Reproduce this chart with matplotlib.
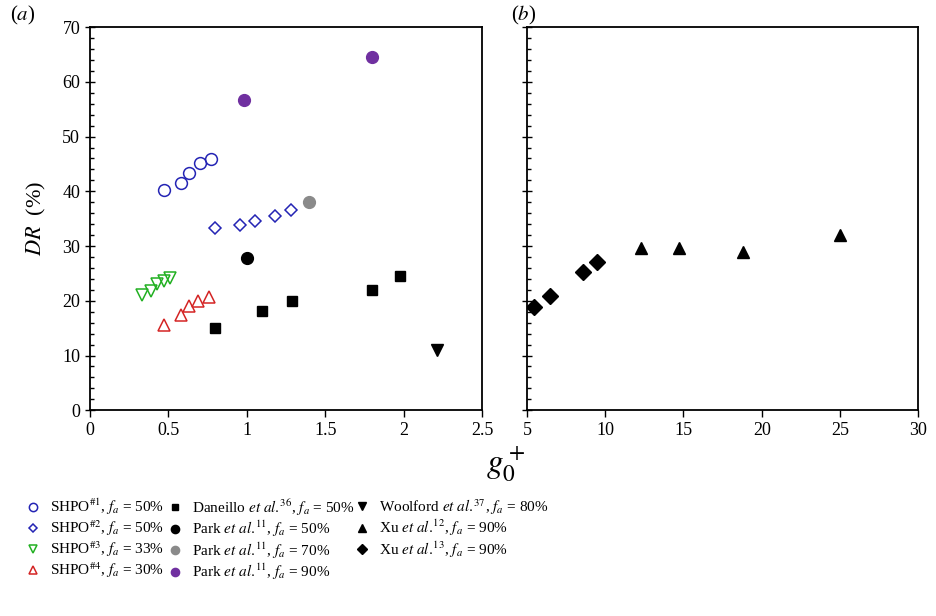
import matplotlib
matplotlib.use('Agg')
import matplotlib.pyplot as plt
from matplotlib.ticker import MultipleLocator

plt.rcParams['font.family'] = ['Liberation Serif', 'DejaVu Serif']
plt.rcParams['mathtext.fontset'] = 'stix'

# panel (a)
shpo1_x = [0.47, 0.58, 0.63, 0.70, 0.77]
shpo1_y = [40.3, 41.5, 43.4, 45.1, 45.9]
shpo2_x = [0.795, 0.955, 1.05, 1.18, 1.28]
shpo2_y = [33.3, 33.9, 34.5, 35.5, 36.5]
shpo3_x = [0.33, 0.39, 0.43, 0.47, 0.51]
shpo3_y = [21.0, 21.8, 23.0, 23.6, 24.2]
shpo4_x = [0.47, 0.58, 0.63, 0.69, 0.76]
shpo4_y = [15.6, 17.4, 19.1, 20.0, 20.6]
daneillo_x = [0.80, 1.10, 1.29, 1.80, 1.98]
daneillo_y = [15.0, 18.1, 19.9, 22.0, 24.6]
park50_x, park50_y = [1.0], [27.9]
park70_x, park70_y = [1.40], [38.0]
park90_x = [0.98, 1.80]
park90_y = [56.6, 64.6]
woolford_x, woolford_y = [2.21], [11.0]

# panel (b)
xu13_x = [5.47, 6.47, 8.56, 9.47]
xu13_y = [18.8, 20.9, 25.3, 27.0]
xu12_x = [12.3, 14.7, 18.8, 25.0]
xu12_y = [29.6, 29.6, 29.0, 32.0]

BLUE = '#2424b4'
GREEN = '#22b022'
RED = '#d42424'
PURPLE = '#7030a0'
GRAY = '#8a8a8a'

fig = plt.figure(figsize=(9.36, 6.16), dpi=100)
ax1 = fig.add_axes([0.096, 0.334, 0.419, 0.622])
ax2 = fig.add_axes([0.563, 0.334, 0.418, 0.622])

h = []
h += ax1.plot(shpo1_x, shpo1_y, 'o', mfc='none', mec=BLUE, mew=1.1, ms=8.5, ls='none',
              label=r'SHPO$^{\#1}$, $f_a$ = 50%')
h += ax1.plot(shpo2_x, shpo2_y, 'D', mfc='none', mec=BLUE, mew=1.1, ms=6.5, ls='none',
              label=r'SHPO$^{\#2}$, $f_a$ = 50%')
h += ax1.plot(shpo3_x, shpo3_y, 'v', mfc='none', mec=GREEN, mew=1.1, ms=8, ls='none',
              label=r'SHPO$^{\#3}$, $f_a$ = 33%')
h += ax1.plot(shpo4_x, shpo4_y, '^', mfc='none', mec=RED, mew=1.1, ms=8, ls='none',
              label=r'SHPO$^{\#4}$, $f_a$ = 30%')
h += ax1.plot(daneillo_x, daneillo_y, 's', color='black', ms=6.5, ls='none',
              label=r'Daneillo $\mathit{et\ al.}^{\!36}$, $f_a$ = 50%')
h += ax1.plot(park50_x, park50_y, 'o', color='black', ms=8.5, ls='none',
              label=r'Park $\mathit{et\ al.}^{\!11}$, $f_a$ = 50%')
h += ax1.plot(park70_x, park70_y, 'o', color=GRAY, ms=8.5, ls='none',
              label=r'Park $\mathit{et\ al.}^{\!11}$, $f_a$ = 70%')
h += ax1.plot(park90_x, park90_y, 'o', color=PURPLE, ms=8.5, ls='none',
              label=r'Park $\mathit{et\ al.}^{\!11}$, $f_a$ = 90%')
h += ax1.plot(woolford_x, woolford_y, 'v', color='black', ms=8, ls='none',
              label=r'Woolford $\mathit{et\ al.}^{\!37}$, $f_a$ = 80%')
h += ax2.plot(xu12_x, xu12_y, '^', color='black', ms=8, ls='none',
              label=r'Xu $\mathit{et\ al.}^{\!12}$, $f_a$ = 90%')
h += ax2.plot(xu13_x, xu13_y, 'D', color='black', ms=8, ls='none',
              label=r'Xu $\mathit{et\ al.}^{\!13}$, $f_a$ = 90%')

ax1.set_xlim(0, 2.5)
ax2.set_xlim(5, 30)
for ax in (ax1, ax2):
    ax.set_ylim(0, 70)
    ax.yaxis.set_major_locator(MultipleLocator(10))
    ax.yaxis.set_minor_locator(MultipleLocator(2))
    ax.tick_params(axis='y', which='major', direction='inout', length=7, width=1, labelsize=13)
    ax.tick_params(axis='y', which='minor', direction='in', length=3, width=1)
    ax.tick_params(axis='x', which='major', direction='out', length=5, width=1, labelsize=13)
    for s in ax.spines.values():
        s.set_linewidth(1.3)
ax1.set_xticks([0, 0.5, 1, 1.5, 2, 2.5])
ax1.set_xticklabels(['0', '0.5', '1', '1.5', '2', '2.5'])
ax2.xaxis.set_major_locator(MultipleLocator(5))
ax2.tick_params(axis='y', labelleft=False)

ax1.set_ylabel(r'$DR$  (%)', fontsize=16, labelpad=10)
fig.text(0.54, 0.245, r'$g_0^+$', fontsize=24, ha='center', va='center')
fig.text(0.011, 0.975, r'($a$)', fontsize=15, ha='left', va='center')
fig.text(0.546, 0.975, r'($b$)', fontsize=15, ha='left', va='center')

# legend in three columns, placed by hand
legend_cols = [(h[0:4], 33), (h[4:8], 175), (h[8:11], 362)]
fs = 11
for handles, mx in legend_cols:
    left = (mx - 0.5 * fs * 100 / 72) / 936
    fig.legend(handles=handles, loc='upper left', bbox_to_anchor=(left, 0.193),
               frameon=False, fontsize=fs, handlelength=1.0, handletextpad=0.6,
               labelspacing=0.08, borderaxespad=0, borderpad=0, markerscale=0.7)

fig.savefig('out.png', dpi=100)
